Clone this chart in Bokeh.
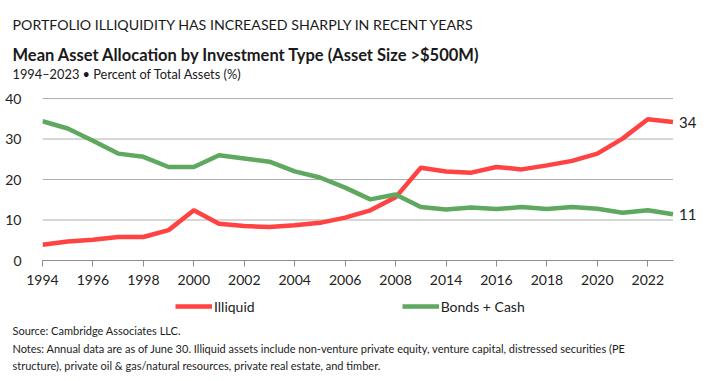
from bokeh.plotting import figure
from bokeh.layouts import column
from bokeh.models import Range1d, FixedTicker, Label, Legend, LegendItem, ColumnDataSource
from bokeh.embed import file_html
from bokeh.resources import INLINE

# ---------------- data ----------------
years = ["1994", "1995", "1996", "1997", "1998", "1999", "2000", "2001", "2002",
         "2003", "2004", "2005", "2006", "2007", "2008", "2013", "2014", "2015",
         "2016", "2017", "2018", "2019", "2020", "2021", "2022", "2023"]
illiquid = [3.9, 4.7, 5.1, 5.8, 5.8, 7.5, 12.4, 9.1, 8.5, 8.3, 8.7, 9.3, 10.6,
            12.4, 15.6, 22.9, 22.0, 21.7, 23.1, 22.5, 23.5, 24.6, 26.4, 30.1, 34.9, 34.2]
bonds_cash = [34.4, 32.6, 29.6, 26.4, 25.6, 23.1, 23.1, 26.0, 25.2, 24.4, 22.0, 20.5,
              18.0, 15.1, 16.3, 13.2, 12.6, 13.1, 12.7, 13.2, 12.7, 13.2, 12.8, 11.8, 12.4, 11.4]
y_ticks = [0, 10, 20, 30, 40]
x_tick_idx = [0, 2, 4, 6, 8, 10, 12, 14, 16, 18, 20, 22, 24]
series_names = ["Illiquid", "Bonds + Cash"]

title = "PORTFOLIO ILLIQUIDITY HAS INCREASED SHARPLY IN RECENT YEARS"
subtitle = "Mean Asset Allocation by Investment Type (Asset Size >$500M)"
subsub = "1994\u20132023 \u2022 Percent of Total Assets (%)"
source_txt = "Source: Cambridge Associates LLC."
notes1 = ("Notes: Annual data are as of June 30. Illiquid assets include non-venture private equity, "
          "venture capital, distressed securities (PE")
notes2 = "structure), private oil & gas/natural resources, private real estate, and timber."

RED = "#FF4242"
GREEN = "#5FA85F"
FONT = "Lato"
TXT = "#222222"

# ---------------- layout (page pixels) ----------------
W = 718
TOP_H = 90
FRAME_L, FRAME_T, FRAME_H, FRAME_B = 42, 4, 166, 32
MAIN_H = FRAME_T + FRAME_H + FRAME_B
BOT_H = 381 - TOP_H - MAIN_H
N = len(years)
YMAX = 41
PX_PER_IDX = 25.22


def text_panel(height):
    f = figure(width=W, height=height, output_backend="svg", toolbar_location=None,
               x_range=Range1d(0, W), y_range=Range1d(height, 0),
               x_axis_location=None, y_axis_location=None, frame_align=False,
               min_border=0, min_border_left=0, min_border_right=0,
               min_border_top=0, min_border_bottom=0)
    f.grid.visible = False
    f.outline_line_color = None
    f.background_fill_color = "white"
    f.border_fill_color = "white"
    return f


# ---------------- title panel ----------------
top = text_panel(TOP_H)
for t, yc, fs, fst in [(title, 24, "14.2px", "normal"),
                       (subtitle, 54, "16.5px", "bold"),
                       (subsub, 73, "12.8px", "normal")]:
    top.add_layout(Label(x=12, y=yc, text=t, text_baseline="middle", text_align="left",
                         text_font=FONT, text_font_size=fs, text_font_style=fst,
                         text_color="#1A1A1A"))

# ---------------- main chart ----------------
src = ColumnDataSource(dict(x=list(range(N)), ill=illiquid, bc=bonds_cash))

p = figure(width=W, height=MAIN_H, output_backend="svg", toolbar_location=None,
           x_range=Range1d(0, (W - FRAME_L) / PX_PER_IDX), y_range=Range1d(0, YMAX),
           frame_align=False,
           min_border_left=FRAME_L, min_border_right=0,
           min_border_top=FRAME_T, min_border_bottom=FRAME_B)
p.outline_line_color = None
p.background_fill_color = "white"
p.border_fill_color = "white"
p.grid.visible = False

# horizontal grid lines spanning the data only
p.segment(x0=[0] * len(y_ticks), x1=[N - 1] * len(y_ticks), y0=y_ticks, y1=y_ticks,
          line_color="#ADADAD", line_width=1)

p.line("x", "ill", source=src, line_color=RED, line_width=4.5)
p.line("x", "bc", source=src, line_color=GREEN, line_width=4.5)

p.yaxis.ticker = FixedTicker(ticks=y_ticks)
p.yaxis.axis_line_color = None
p.yaxis.major_tick_line_color = None
p.yaxis.minor_tick_line_color = None
p.yaxis.major_label_standoff = 15
p.yaxis.major_label_text_font = FONT
p.yaxis.major_label_text_font_size = "14px"
p.yaxis.major_label_text_color = TXT

p.xaxis.ticker = FixedTicker(ticks=x_tick_idx)
p.xaxis.bounds = (0, N - 1)
p.xaxis.major_label_overrides = {i: years[i] for i in x_tick_idx}
p.xaxis.axis_line_color = "#8C8C8C"
p.xaxis.major_tick_line_color = "#8C8C8C"
p.xaxis.major_tick_in = 0
p.xaxis.major_tick_out = 6
p.xaxis.minor_tick_line_color = None
p.xaxis.major_label_standoff = 8
p.xaxis.major_label_text_font = FONT
p.xaxis.major_label_text_font_size = "14px"
p.xaxis.major_label_text_color = TXT

# end-of-line value labels
for vals in (illiquid, bonds_cash):
    p.add_layout(Label(x=N - 1, y=vals[-1], text=str(int(round(vals[-1]))), x_offset=6,
                       text_baseline="middle", text_align="left", text_font=FONT,
                       text_font_size="15px", text_color=TXT))

# ---------------- legend + footer panel ----------------
bot = text_panel(BOT_H)
y0 = TOP_H + MAIN_H
# hidden copies of the series, only used as legend swatches
leg_ill = bot.line("x", "ill", source=src, line_color=RED, line_width=4.5, visible=False)
leg_bc = bot.line("x", "bc", source=src, line_color=GREEN, line_width=4.5, visible=False)
leg_cy = 306 - y0
legend = Legend(items=[LegendItem(label=series_names[0], renderers=[leg_ill]),
                       LegendItem(label=series_names[1], renderers=[leg_bc])],
                orientation="horizontal", location=(175, BOT_H - (leg_cy + 10)),
                glyph_width=37, glyph_height=20, label_height=20, label_standoff=2,
                spacing=147, padding=0, margin=0, border_line_color=None,
                background_fill_alpha=0, inactive_fill_alpha=0,
                label_text_font=FONT, label_text_font_size="14px", label_text_color=TXT)
bot.add_layout(legend, "center")

for t, yc in [(source_txt, 330), (notes1, 348), (notes2, 365)]:
    bot.add_layout(Label(x=12, y=yc - y0, text=t, text_baseline="middle", text_align="left",
                         text_font=FONT, text_font_size="11px", text_color=TXT))

layout = column(top, p, bot, spacing=0)
open("out.html", "w").write(file_html(layout, INLINE))
